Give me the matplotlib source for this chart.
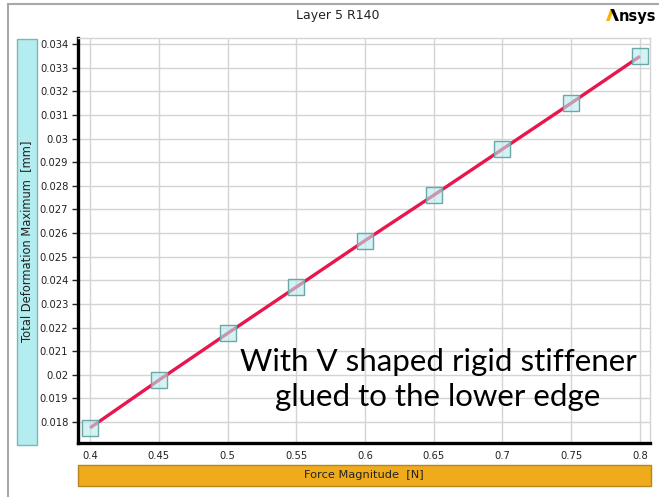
import matplotlib
matplotlib.use("Agg")
import matplotlib.pyplot as plt
from matplotlib.patches import Rectangle, Polygon
from matplotlib.lines import Line2D

# Force magnitude [N] and resulting total deformation maximum [mm]
force = [0.40, 0.45, 0.50, 0.55, 0.60, 0.65, 0.70, 0.75, 0.80]
deformation = [0.01775, 0.01977, 0.02175, 0.02371, 0.02568, 0.02760, 0.02955, 0.03150, 0.03348]

x_ticks = [0.4, 0.45, 0.5, 0.55, 0.6, 0.65, 0.7, 0.75, 0.8]
x_tick_labels = ["0.4", "0.45", "0.5", "0.55", "0.6", "0.65", "0.7", "0.75", "0.8"]
y_ticks = [0.018, 0.019, 0.020, 0.021, 0.022, 0.023, 0.024, 0.025, 0.026,
           0.027, 0.028, 0.029, 0.030, 0.031, 0.032, 0.033, 0.034]
y_tick_labels = ["0.018", "0.019", "0.02", "0.021", "0.022", "0.023", "0.024", "0.025",
                 "0.026", "0.027", "0.028", "0.029", "0.03", "0.031", "0.032", "0.033", "0.034"]

title = "Layer 5 R140"
x_label = "Force Magnitude  [N]"
y_label = "Total Deformation Maximum  [mm]"
note = "With V shaped rigid stiffener\nglued to the lower edge"

W, H = 659, 497
fig = plt.figure(figsize=(W / 100, H / 100), dpi=100)
fig.patch.set_facecolor("white")


def fx(px):
    return px / W


def fy(py):
    return 1 - py / H


# plot area
ax_l, ax_r, ax_t, ax_b = 78, 650, 38, 443
ax = fig.add_axes([fx(ax_l), fy(ax_b), (ax_r - ax_l) / W, (ax_b - ax_t) / H])
ax.set_xlim(0.4 - 12 / 1375, 0.8 + 10 / 1375)
ax.set_ylim(0.018 - 21 / 23625, 0.034 + 6 / 23625)

ax.set_xticks(x_ticks)
ax.set_xticklabels(x_tick_labels)
ax.set_yticks(y_ticks)
ax.set_yticklabels(y_tick_labels)
ax.tick_params(axis="both", labelsize=7.2, colors="#222222", length=4, width=1,
               direction="out", pad=3)
ax.tick_params(axis="x", length=0, pad=6)
ax.grid(True, color="#d4d4d4", linewidth=1)
ax.set_axisbelow(True)

for side in ("top", "right"):
    ax.spines[side].set_color("#d4d4d4")
    ax.spines[side].set_linewidth(1)
for side in ("left", "bottom"):
    ax.spines[side].set_color("black")
    ax.spines[side].set_linewidth(2.4)

ax.plot(force, deformation, color="#e8164e", linewidth=2.4, zorder=3,
        solid_capstyle="butt")
ax.plot(force, deformation, linestyle="none", marker="s", markersize=12,
        markerfacecolor=(0.72, 0.92, 0.93, 0.6), markeredgecolor="#6aa8a8",
        markeredgewidth=1, zorder=4)

ax.text(0.653, 0.01978, note, ha="center", va="center", fontsize=22.5,
        family="Lato", color="black", linespacing=1.3, zorder=5)

# title
fig.text(fx(338), fy(15), title, ha="center", va="center", fontsize=9,
         color="#222222")

# logo: two slanted strokes forming the A, then the rest of the word
fig.patches.append(Polygon([(fx(606), fy(21)), (fx(609.5), fy(21)),
                            (fx(614), fy(9)), (fx(610.5), fy(9))],
                           closed=True, transform=fig.transFigure,
                           facecolor="#f5b400", edgecolor="none"))
fig.patches.append(Polygon([(fx(610.5), fy(9)), (fx(614), fy(9)),
                            (fx(619), fy(21)), (fx(615.5), fy(21))],
                           closed=True, transform=fig.transFigure,
                           facecolor="black", edgecolor="none"))
fig.text(fx(619), fy(21), "nsys", ha="left", va="baseline", fontsize=10.5,
         fontweight="bold", color="black")

# axis label boxes
fig.patches.append(Rectangle((fx(17), fy(445)), 20 / W, (445 - 39) / H,
                             transform=fig.transFigure, facecolor="#b4edef",
                             edgecolor="#7fb5b5", linewidth=1))
fig.text(fx(27), fy(241), y_label, rotation=90, ha="center", va="center",
         fontsize=8.3, color="#222222")

fig.patches.append(Rectangle((fx(78), fy(486)), (651 - 78) / W, 21 / H,
                             transform=fig.transFigure, facecolor="#efab1c",
                             edgecolor="#b7861c", linewidth=1))
fig.text(fx(364), fy(475.5), x_label, ha="center", va="center", fontsize=8.2,
         color="#222222")

# outer frame
fig.lines.append(Line2D([fx(8), 1], [fy(4), fy(4)], transform=fig.transFigure,
                        color="#a8a8a8", linewidth=1.5))
fig.lines.append(Line2D([fx(8), fx(8)], [fy(4), 0], transform=fig.transFigure,
                        color="#a8a8a8", linewidth=1.5))

fig.savefig("out.png", dpi=100)
